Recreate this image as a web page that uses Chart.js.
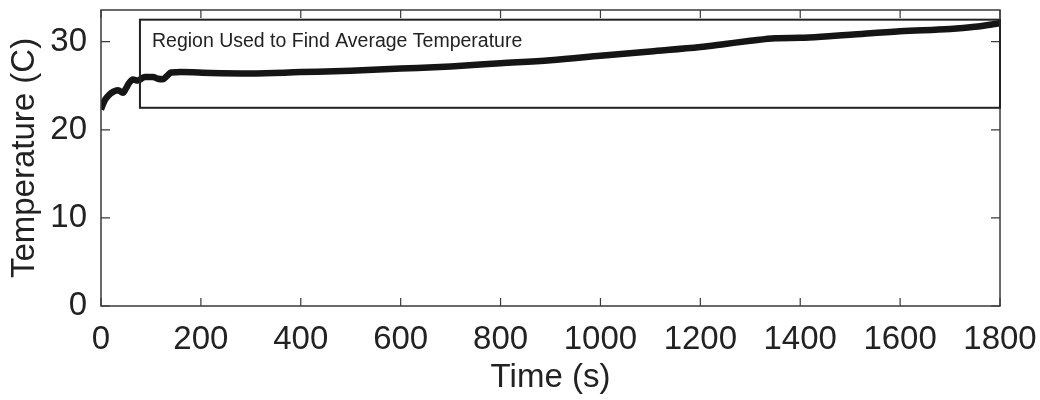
<!DOCTYPE html>
<html>
<head>
<meta charset="utf-8">
<script src="https://cdn.jsdelivr.net/npm/chart.js@4.4.0/dist/chart.umd.min.js"></script>
<style>
  html, body { margin: 0; padding: 0; background: #fff; }
  #wrap { width: 1040px; height: 400px; }
</style>
</head>
<body>
<div id="wrap"><canvas id="tempChart" width="1040" height="400"></canvas></div>
<script>
// values
const timeS = [0, 4, 8, 15, 24, 34, 44, 50, 56, 64, 74, 88, 104, 114, 124, 132, 140, 160, 220, 300, 400, 500, 600,
  700, 800, 900, 1000, 1100, 1200, 1250, 1300, 1350, 1400, 1450, 1500, 1600, 1700, 1750, 1800];
const tempC = [22.3, 22.9, 23.4, 23.9, 24.3, 24.5, 24.2, 24.7, 25.3, 25.7, 25.6, 26.0, 26.0, 25.8, 25.75, 26.1, 26.5,
  26.55, 26.45, 26.4, 26.55, 26.7, 26.95, 27.2, 27.55, 27.9, 28.4, 28.9, 29.4, 29.75, 30.1, 30.4, 30.45, 30.6, 30.8,
  31.2, 31.45, 31.7, 32.1];

const xTicks = [0, 200, 400, 600, 800, 1000, 1200, 1400, 1600, 1800];
const yTicks = [0, 10, 20, 30];
const xRange = [0, 1800];
const yRange = [0, 33.6];

const regionX = [78, 1800];
const regionY = [22.5, 32.5];
const regionLabel = 'Region Used to Find Average Temperature';
const xTitle = 'Time (s)';
const yTitle = 'Temperature (C)';

const FONT = "'Liberation Sans', Arial, Helvetica, sans-serif";
const AXIS = '#3a3a3a';

// box round the plot, inward ticks on all sides, and the region annotation
const framePlugin = {
  id: 'frame',
  afterDraw(chart) {
    const { ctx, chartArea: a, scales: { x, y } } = chart;
    ctx.save();
    ctx.strokeStyle = AXIS;
    ctx.lineWidth = 1.5;
    ctx.strokeRect(a.left, a.top, a.right - a.left, a.bottom - a.top);

    ctx.lineWidth = 1.2;
    ctx.beginPath();
    for (const v of xTicks) {
      const px = x.getPixelForValue(v);
      ctx.moveTo(px, a.bottom); ctx.lineTo(px, a.bottom - 8);
      ctx.moveTo(px, a.top);    ctx.lineTo(px, a.top + 8);
    }
    for (const v of yTicks) {
      const py = y.getPixelForValue(v);
      ctx.moveTo(a.left, py);  ctx.lineTo(a.left + 9, py);
      ctx.moveTo(a.right, py); ctx.lineTo(a.right - 9, py);
    }
    ctx.stroke();

    const rx1 = x.getPixelForValue(regionX[0]);
    const rx2 = x.getPixelForValue(regionX[1]);
    const ry1 = y.getPixelForValue(regionY[1]);
    const ry2 = y.getPixelForValue(regionY[0]);
    ctx.strokeStyle = '#222';
    ctx.lineWidth = 2;
    ctx.strokeRect(rx1, ry1, rx2 - rx1, ry2 - ry1);

    ctx.fillStyle = '#222';
    ctx.font = `19.5px ${FONT}`;
    ctx.textBaseline = 'alphabetic';
    ctx.textAlign = 'left';
    ctx.fillText(regionLabel, rx1 + 12, ry1 + 27);
    ctx.restore();
  },
};

const ctx = document.getElementById('tempChart').getContext('2d');
const chart = new Chart(ctx, {
  type: 'scatter',
  data: {
    datasets: [{
      data: timeS.map((t, i) => ({ x: t, y: tempC[i] })),
      showLine: true,
      borderColor: '#151515',
      borderWidth: 6.5,
      pointRadius: 0,
      cubicInterpolationMode: 'monotone',
    }],
  },
  options: {
    responsive: false,
    animation: false,
    layout: { padding: { top: 10, right: 40, left: 0, bottom: 0 } },
    scales: {
      x: {
        type: 'linear',
        min: xRange[0],
        max: xRange[1],
        afterBuildTicks: (s) => { s.ticks = xTicks.map(v => ({ value: v })); },
        afterFit: (s) => { s.height = 94; s.paddingLeft = 0; s.paddingRight = 0; },
        ticks: { color: '#222', font: { family: FONT, size: 33 }, padding: 14, maxRotation: 0,
                 callback: (v) => String(v) },
        grid: { display: false, drawTicks: false },
        border: { display: false },
        title: { display: true, text: xTitle, color: '#222', font: { family: FONT, size: 33 }, padding: { top: 0, bottom: 2 } },
      },
      y: {
        type: 'linear',
        min: yRange[0],
        max: yRange[1],
        afterBuildTicks: (s) => { s.ticks = yTicks.map(v => ({ value: v })); },
        afterFit: (s) => { s.width = 101; s.paddingTop = 0; s.paddingBottom = 0; },
        ticks: { color: '#222', font: { family: FONT, size: 33 }, padding: 14, callback: (v) => String(v) },
        grid: { display: false, drawTicks: false },
        border: { display: false },
        title: { display: true, text: yTitle, color: '#222', font: { family: FONT, size: 33 }, padding: { top: 5, bottom: 0 } },
      },
    },
    plugins: {
      legend: { display: false },
      tooltip: { enabled: false },
    },
  },
  plugins: [framePlugin],
});
</script>
</body>
</html>
